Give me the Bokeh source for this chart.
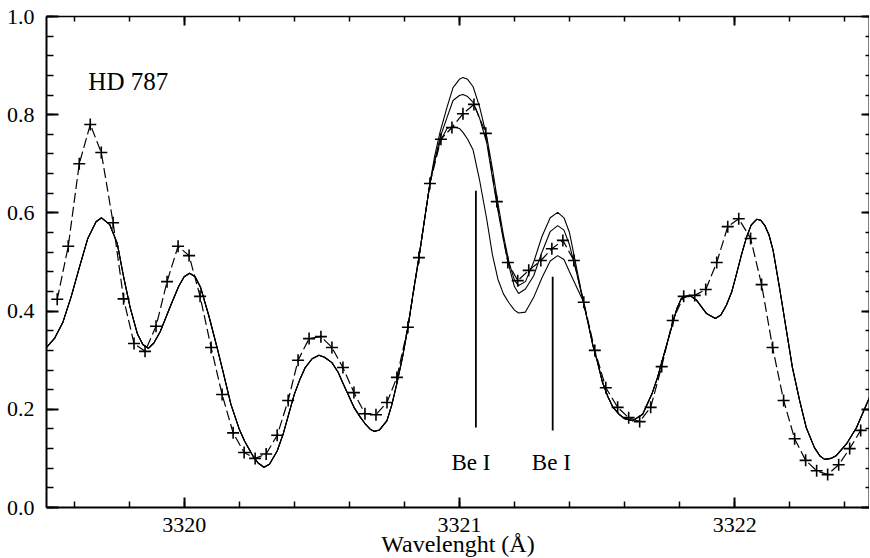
from bokeh.plotting import figure
from bokeh.models import (LinearAxis, SingleIntervalTicker, PrintfTickFormatter,
                          CustomJSTickFormatter, Range1d)
from bokeh.core.properties import value
from bokeh.embed import file_html
from bokeh.resources import INLINE

# ---------------- data ----------------
# observed spectrum (crosses joined by a dashed line)
obs_x = [3319.539, 3319.579, 3319.619, 3319.659, 3319.699, 3319.742, 3319.780, 3319.818,
         3319.858, 3319.898, 3319.938, 3319.978, 3320.018, 3320.058, 3320.098, 3320.138,
         3320.178, 3320.218, 3320.258, 3320.298, 3320.338, 3320.378, 3320.414, 3320.454,
         3320.497, 3320.537, 3320.577, 3320.617, 3320.657, 3320.697, 3320.737, 3320.773,
         3320.813, 3320.853, 3320.893, 3320.933, 3320.973, 3321.013, 3321.053, 3321.096,
         3321.136, 3321.176, 3321.212, 3321.252, 3321.296, 3321.336, 3321.376, 3321.416,
         3321.452, 3321.492, 3321.532, 3321.575, 3321.615, 3321.655, 3321.695, 3321.735,
         3321.775, 3321.815, 3321.855, 3321.895, 3321.935, 3321.975, 3322.015, 3322.058,
         3322.098, 3322.138, 3322.178, 3322.218, 3322.258, 3322.298, 3322.338, 3322.378,
         3322.418, 3322.458]
obs_y = [0.424, 0.532, 0.700, 0.780, 0.723, 0.580, 0.425, 0.334,
         0.318, 0.369, 0.460, 0.532, 0.513, 0.430, 0.326, 0.230,
         0.152, 0.112, 0.100, 0.109, 0.147, 0.218, 0.300, 0.344,
         0.348, 0.326, 0.285, 0.234, 0.191, 0.189, 0.214, 0.265,
         0.367, 0.509, 0.660, 0.750, 0.774, 0.802, 0.821, 0.762,
         0.623, 0.499, 0.462, 0.483, 0.503, 0.527, 0.544, 0.503,
         0.418, 0.320, 0.244, 0.204, 0.183, 0.175, 0.204, 0.287,
         0.381, 0.430, 0.432, 0.444, 0.499, 0.572, 0.588, 0.548,
         0.454, 0.326, 0.218, 0.140, 0.096, 0.075, 0.067, 0.087,
         0.120, 0.157]

# synthetic spectra: common part left of the Be lines
syn_left_x = [3319.500, 3319.530, 3319.560, 3319.590, 3319.620, 3319.650, 3319.680, 3319.700,
              3319.730, 3319.757, 3319.780, 3319.804, 3319.830, 3319.850, 3319.870, 3319.890,
              3319.913, 3319.950, 3319.980, 3320.000, 3320.020, 3320.040, 3320.060, 3320.090,
              3320.120, 3320.140, 3320.170, 3320.200, 3320.220, 3320.250, 3320.270, 3320.290,
              3320.310, 3320.338, 3320.360, 3320.380, 3320.400, 3320.420, 3320.440, 3320.465,
              3320.490, 3320.510, 3320.537, 3320.560, 3320.577, 3320.600, 3320.617, 3320.640,
              3320.657, 3320.675, 3320.690, 3320.710, 3320.737, 3320.755, 3320.773, 3320.793,
              3320.813, 3320.833, 3320.853, 3320.873, 3320.893]
syn_left_y = [0.326, 0.345, 0.378, 0.430, 0.490, 0.548, 0.582, 0.590,
              0.576, 0.538, 0.470, 0.407, 0.354, 0.332, 0.324, 0.335,
              0.358, 0.410, 0.450, 0.470, 0.477, 0.470, 0.448, 0.390,
              0.325, 0.280, 0.210, 0.160, 0.135, 0.105, 0.090, 0.082,
              0.088, 0.115, 0.150, 0.190, 0.230, 0.260, 0.285, 0.303,
              0.310, 0.306, 0.295, 0.275, 0.253, 0.225, 0.204, 0.184,
              0.171, 0.160, 0.155, 0.158, 0.177, 0.210, 0.253, 0.305,
              0.367, 0.440, 0.509, 0.585, 0.660]

# the three synthetic spectra in the Be I region
syn_be_x = [3320.910, 3320.930, 3320.955, 3320.977, 3321.000, 3321.013, 3321.030, 3321.050,
            3321.074, 3321.100, 3321.120, 3321.140, 3321.160, 3321.180, 3321.200, 3321.215,
            3321.240, 3321.270, 3321.300, 3321.330, 3321.357, 3321.380, 3321.400, 3321.425]
syn_a_y = [0.715, 0.765, 0.815, 0.855, 0.872, 0.876, 0.872, 0.857,
           0.815, 0.754, 0.690, 0.620, 0.555, 0.500, 0.463, 0.452,
           0.460, 0.500, 0.552, 0.590, 0.601, 0.590, 0.560, 0.490]
syn_b_y = [0.705, 0.754, 0.794, 0.829, 0.839, 0.841, 0.837, 0.825,
           0.792, 0.741, 0.672, 0.605, 0.545, 0.492, 0.450, 0.436,
           0.445, 0.472, 0.520, 0.562, 0.574, 0.565, 0.535, 0.480]
syn_c_y = [0.705, 0.745, 0.772, 0.776, 0.772, 0.764, 0.750, 0.728,
           0.665, 0.585, 0.515, 0.465, 0.435, 0.417, 0.402, 0.396,
           0.398, 0.428, 0.468, 0.502, 0.513, 0.505, 0.480, 0.450]

# common part right of the Be lines
syn_right_x = [3321.450, 3321.470, 3321.485, 3321.500, 3321.520, 3321.540, 3321.557, 3321.580,
               3321.600, 3321.630, 3321.666, 3321.700, 3321.720, 3321.740, 3321.760, 3321.775,
               3321.790, 3321.807, 3321.837, 3321.862, 3321.898, 3321.930, 3321.950, 3321.970,
               3321.990, 3322.007, 3322.025, 3322.043, 3322.060, 3322.080, 3322.095, 3322.110,
               3322.125, 3322.140, 3322.163, 3322.190, 3322.210, 3322.236, 3322.260, 3322.290,
               3322.310, 3322.327, 3322.350, 3322.370, 3322.407, 3322.443, 3322.470, 3322.490]
syn_right_y = [0.420, 0.370, 0.330, 0.300, 0.255, 0.225, 0.205, 0.190,
               0.181, 0.177, 0.190, 0.232, 0.265, 0.305, 0.345, 0.375,
               0.405, 0.426, 0.432, 0.422, 0.395, 0.385, 0.392, 0.412,
               0.440, 0.476, 0.515, 0.550, 0.575, 0.587, 0.585, 0.574,
               0.555, 0.523, 0.448, 0.354, 0.285, 0.218, 0.163, 0.122,
               0.105, 0.098, 0.100, 0.106, 0.130, 0.163, 0.198, 0.224]

# Be I line markers
be_x = [3321.060, 3321.339]
be_y_low = [0.163, 0.157]
be_y_high = [0.645, 0.470]
be_labels = ["Be I", "Be I"]

star_label = "HD 787"
x_label = "Wavelenght (Å)"

# ---------------- layout / style ----------------
SERIF = "'Liberation Serif', 'Times New Roman', 'DejaVu Serif', serif"
be_label_x = [3321.042, 3321.334]
be_label_y = [0.092, 0.092]
star_x, star_y = 3319.652, 0.868

p = figure(frame_width=823, frame_height=491,
           x_range=Range1d(3319.50, 3322.49), y_range=Range1d(0.0, 1.0),
           output_backend="svg", toolbar_location=None,
           x_axis_location=None, y_axis_location=None,
           min_border_left=46, min_border_top=16, min_border_right=0, min_border_bottom=0,
           outline_line_color=None, background_fill_color="white",
           border_fill_color="white")
for g in p.grid:
    g.visible = False


def make_axis(interval, fmt, show_labels):
    ax = LinearAxis(ticker=SingleIntervalTicker(interval=interval, num_minor_ticks=5))
    ax.axis_line_width = 2
    ax.axis_line_color = "black"
    ax.major_tick_line_width = 2
    ax.minor_tick_line_width = 1.5
    ax.major_tick_in = 12
    ax.major_tick_out = 0
    ax.minor_tick_in = 7
    ax.minor_tick_out = 0
    if show_labels:
        ax.formatter = PrintfTickFormatter(format=fmt)
        ax.major_label_text_font = SERIF
        ax.major_label_text_font_size = "22px"
        ax.major_label_text_color = "black"
    else:
        ax.formatter = CustomJSTickFormatter(code="return ''")
        ax.major_label_text_font_size = "1px"
        ax.major_label_standoff = 0
    return ax


ax_b = make_axis(1.0, "%d", True)
ax_b.major_tick_in = 10
ax_b.minor_tick_in = 6
ax_b.major_label_standoff = 10
ax_b.axis_label = x_label
ax_b.axis_label_text_font = SERIF
ax_b.axis_label_text_font_size = "24px"
ax_b.axis_label_text_font_style = "normal"
ax_b.axis_label_text_color = "black"
ax_b.axis_label_standoff = -4
p.add_layout(ax_b, "below")

ax_l = make_axis(0.2, "%.1f", True)
ax_l.major_label_standoff = 12
p.add_layout(ax_l, "left")

ax_t = make_axis(1.0, "%d", False)
ax_t.axis_line_width = 1.5
ax_t.major_tick_in = 9
ax_t.minor_tick_in = 5
p.add_layout(ax_t, "above")

ax_r = make_axis(0.2, "%.1f", False)
ax_r.major_tick_in = 8
ax_r.minor_tick_in = 4
p.add_layout(ax_r, "right")

# synthetic spectra (three models, identical outside the Be region)
for ys in (syn_a_y, syn_b_y, syn_c_y):
    xs = syn_left_x + syn_be_x + syn_right_x
    yy = syn_left_y + ys + syn_right_y
    p.line(xs, yy, line_color="black", line_width=1.1)

# observed spectrum
p.line(obs_x, obs_y, line_color="black", line_width=1.2, line_dash="10 4")
p.scatter(obs_x, obs_y, marker="cross", size=12, line_color="black", line_width=1.6)

# Be I markers
p.segment(x0=be_x, y0=be_y_low, x1=be_x, y1=be_y_high, line_color="black", line_width=1.8)
p.text(x=be_label_x, y=be_label_y, text=be_labels, text_font=value(SERIF),
       text_font_size="23px", text_align="center", text_baseline="alphabetic",
       text_color="black")

p.text(x=[star_x], y=[star_y], text=[star_label], text_font=value(SERIF),
       text_font_size="25px", text_align="left", text_baseline="alphabetic",
       text_color="black")

open("out.html", "w").write(file_html(p, INLINE))
